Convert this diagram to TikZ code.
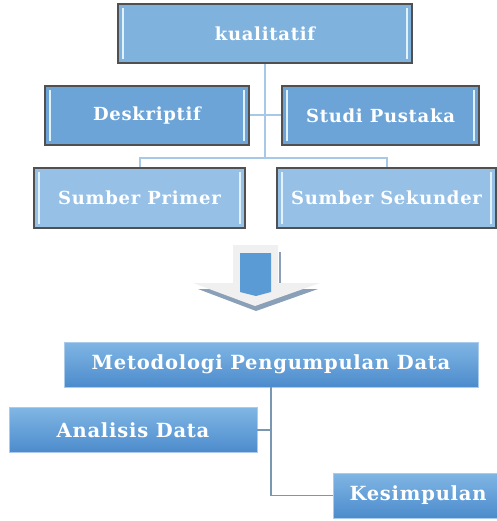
\documentclass[tikz,border=0pt]{standalone}
\usepackage{fontspec}
\setmainfont{DejaVu Serif}
\newfontfamily\boxfont[LetterSpace=4]{DejaVu Serif}
\usetikzlibrary{positioning,calc}
\definecolor{boxedge}{RGB}{80,80,80}
\definecolor{topblue}{RGB}{128,178,222}
\definecolor{midblue}{RGB}{108,164,215}
\definecolor{lowblue}{RGB}{150,192,230}
\definecolor{shinebar}{RGB}{225,242,255}
\definecolor{linkblue}{RGB}{168,200,232}
\definecolor{gradtop}{RGB}{128,182,228}
\definecolor{gradbot}{RGB}{76,139,204}
\definecolor{gradedge}{RGB}{170,204,234}
\definecolor{linkgray}{RGB}{122,151,178}
\definecolor{arrowgray}{RGB}{240,240,240}
\definecolor{arrowshade}{RGB}{138,160,184}
\definecolor{arrowblue}{RGB}{91,155,213}
\tikzstyle{box}=[draw=boxedge,line width=1.6pt,minimum height=59pt,inner sep=0pt,text=white,
  font=\boxfont\bfseries\fontsize{18}{21}\selectfont,
  path picture={
    \draw[shinebar,line width=1.3pt] ([xshift=5pt,yshift=-4pt]path picture bounding box.north west) -- ([xshift=5pt,yshift=4pt]path picture bounding box.south west);
    \draw[shinebar,line width=1.3pt] ([xshift=-5pt,yshift=-4pt]path picture bounding box.north east) -- ([xshift=-5pt,yshift=4pt]path picture bounding box.south east);
  }]
\tikzstyle{box top}=[box,fill=topblue]
\tikzstyle{box mid}=[box,fill=midblue]
\tikzstyle{box low}=[box,fill=lowblue,minimum height=60pt]
\tikzstyle{box grad}=[draw=gradedge,line width=0.8pt,top color=gradtop,bottom color=gradbot,
  minimum height=45pt,inner sep=0pt,text=white,font=\boxfont\bfseries\fontsize{19.5}{23}\selectfont]
\tikzstyle{connect}=[linkblue,line width=2pt]
\tikzstyle{connect low}=[linkgray,line width=1.2pt]

\begin{document}
\begin{tikzpicture}[x=1pt,y=-1pt,on grid]
\useasboundingbox (0,0) rectangle (496,521);

% upper chart
\node [box top,minimum width=294pt] (K) at (265,33.5) {kualitatif};
\node [box mid,minimum width=204pt] (D) [below left=82pt and 118pt of K] {Deskriptif};
\node [box mid,minimum width=197pt] (S) [below right=82pt and 115.5pt of K] {Studi Pustaka};
\node [box low,minimum width=211pt] (SP) [below left=82.5pt and 7.5pt of D] {Sumber Primer};
\node [box low,minimum width=219pt] (SS) [below right=82.5pt and 6pt of S] {Sumber Sekunder};
\coordinate [below=94pt of K.south] (hub);

\draw [connect] (K.south) -- (hub);
\draw [connect] (D.east) -- (S.west);
\draw [connect] (hub) -| (SP.north);
\draw [connect] (hub) -| (SS.north);

% arrow
\fill [arrowshade] (198,289) -- (318,289) -- (256,311) -- cycle;
\fill [arrowgray] (233,245) -- (278,245) -- (278,283) -- (320,283) -- (255,306) -- (193,283) -- (233,283) -- cycle;
\fill [arrowshade] (279,252) rectangle (281,283);
\fill [arrowblue] (240,253) -- (271,253) -- (271,292) -- (256,296) -- (240,292) -- cycle;

% lower chart
\node [box grad,minimum width=414pt] (M) at (271,364.5) {Metodologi Pengumpulan Data};
\node [box grad,minimum width=248pt] (A) [below left=65.5pt and 138pt of M] {Analisis Data};
\node [box grad,minimum width=170pt] (Ke) [below right=131pt and 147pt of M] {Kesimpulan};

\draw [connect low] (M.south) |- (Ke.west);
\draw [connect low] (A.east) -- (A.east -| M.south);

\end{tikzpicture}
\end{document}
